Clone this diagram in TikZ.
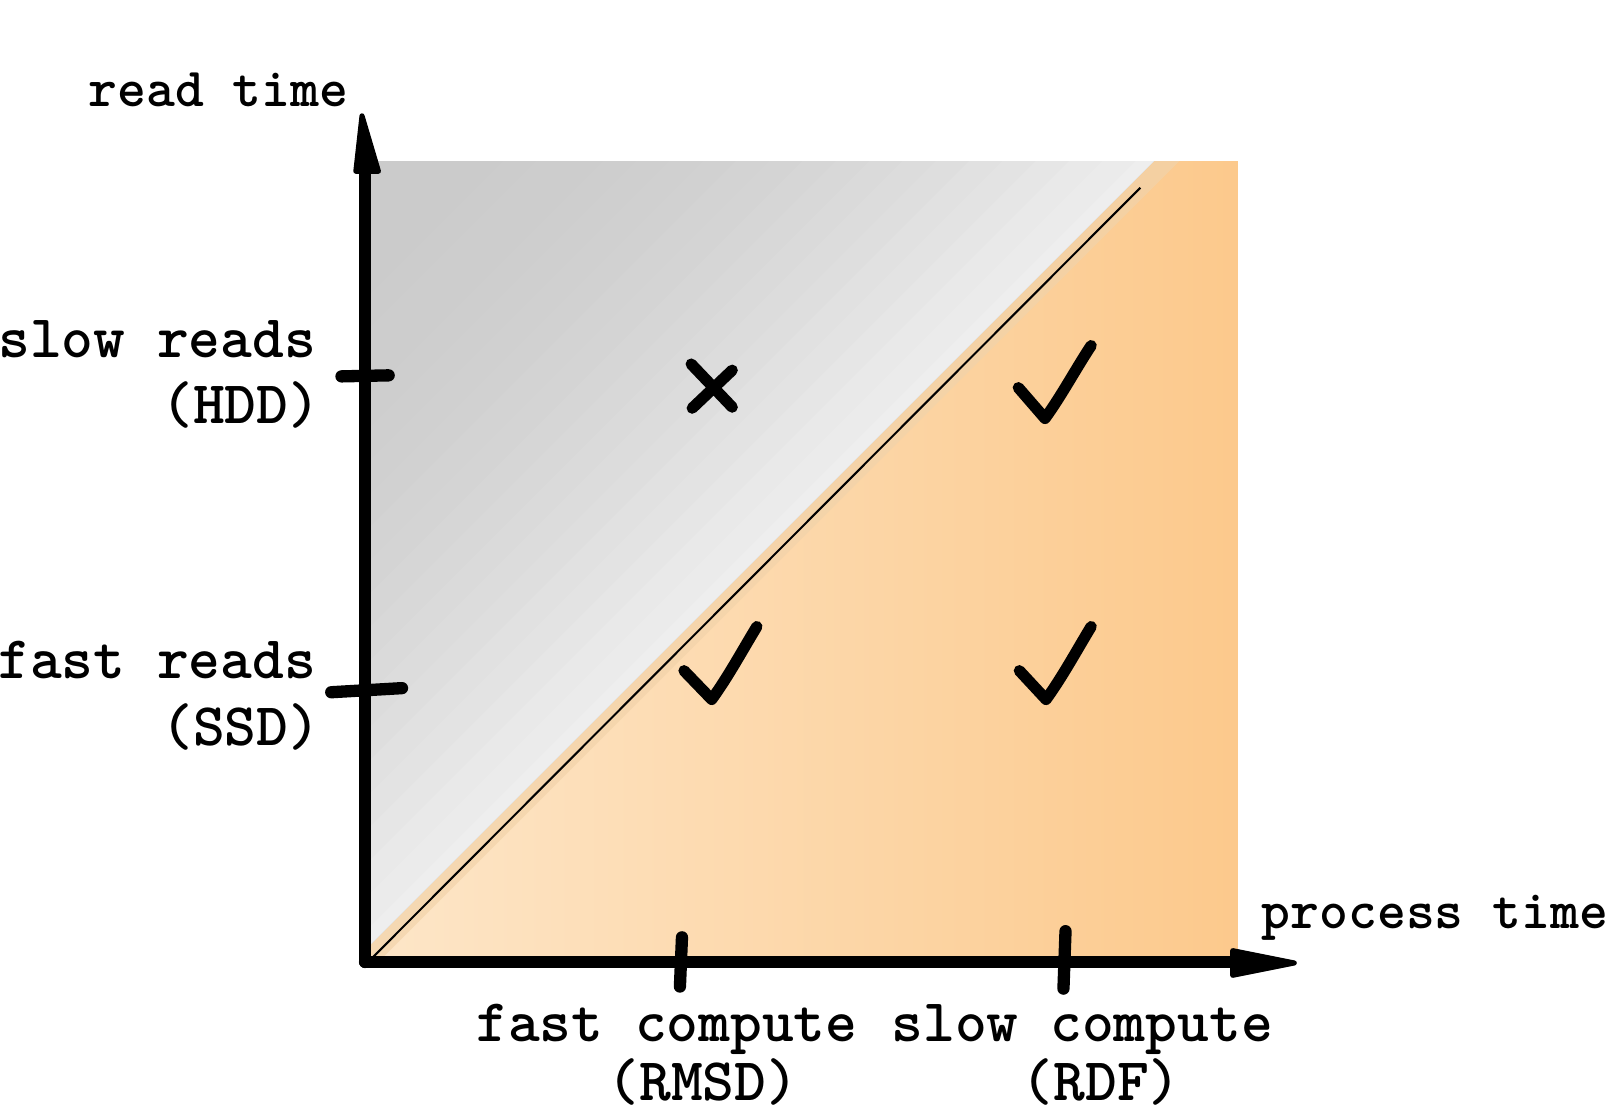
\documentclass[tikz,border=0pt]{standalone}
\usepackage{fontspec}
\definecolor{orfaint}{HTML}{FDE6C8}
\definecolor{orstrong}{HTML}{FCC98C}
\definecolor{tanband}{HTML}{F2D3AA}
\begin{document}
\begin{tikzpicture}[x=0.5pt,y=-0.5pt,
  lab/.style={font=\ttfamily\bfseries\fontsize{29.5}{34}\selectfont, inner sep=0pt, anchor=base west},
  axlab/.style={font=\ttfamily\bfseries\fontsize{26.8}{31}\selectfont, inner sep=0pt, anchor=base west},
  axisline/.style={line width=6pt, line cap=round},
  tickline/.style={line width=6pt, line cap=round},
  penstroke/.style={line width=5.5pt, line cap=round, line join=round},
  arrowtip/.style={fill=black, draw=black, line width=2.5pt, line join=round}]
\useasboundingbox (0,0) rectangle (1568,1089);

% background regions
\shade[left color=orfaint, right color=orstrong] (360,157) rectangle (1207,937);
\fill[tanband, opacity=0.7] (1122,157) -- (1150,157) -- (372,935) -- (360,935) -- (360,919) -- cycle;
\foreach \i in {0,...,23}{
  \pgfmathsetmacro{\c}{517+\i*32.5}
  \pgfmathsetmacro{\p}{20.5-14*(\i/23)^2}
  \fill[black!\p] ({\c-157},157) -- (1125,157) -- (360,922) -- (360,{\c-360}) -- cycle;
}

% diagonal
\coordinate (d0) at (362,935);
\coordinate (d1) at (1112,183);
\draw[line width=1pt] (d0) -- (d1);

% axes
\coordinate (O) at (356,938);
\coordinate (ytop) at (356,165);
\coordinate (xend) at (1205,938);
\draw[axisline] (O) -- (ytop);
\draw[axisline] (O) -- (xend);
\filldraw[arrowtip] (353,113) -- (369,167) -- (347,167) -- cycle;
\filldraw[arrowtip] (1262,939) -- (1202,927) -- (1202,951) -- cycle;

% ticks
\coordinate (ya1) at (333,367); \coordinate (yb1) at (379,366);
\coordinate (ya2) at (323,675); \coordinate (yb2) at (392,671);
\coordinate (xa1) at (665,914); \coordinate (xb1) at (663,962);
\coordinate (xa2) at (1039,908); \coordinate (xb2) at (1037,964);
\draw[tickline] (ya1) -- (yb1);
\draw[tickline] (ya2) -- (yb2);
\draw[tickline] (xa1) -- (xb1);
\draw[tickline] (xa2) -- (xb2);

% cross
\coordinate (c1) at (674,355); \coordinate (c2) at (714,397);
\coordinate (c3) at (714,361); \coordinate (c4) at (675,398);
\draw[penstroke] (c1) -- (c2);
\draw[penstroke] (c3) -- (c4);

% check marks
\coordinate (ka1) at (993,378); \coordinate (kb1) at (1019,408); \coordinate (kc1) at (1064,337);
\draw[penstroke] (ka1) -- (kb1) .. controls (1035,386) and (1050,358) .. (kc1);
\coordinate (ka2) at (667,654); \coordinate (kb2) at (694,682); \coordinate (kc2) at (738,611);
\draw[penstroke] (ka2) -- (kb2) .. controls (710,660) and (724,634) .. (kc2);
\coordinate (ka3) at (994,654); \coordinate (kb3) at (1020,682); \coordinate (kc3) at (1064,611);
\draw[penstroke] (ka3) -- (kb3) .. controls (1036,660) and (1050,634) .. (kc3);

% labels
\node[axlab] (ylab) at (86,104) {read time};
\node[lab] (slow) at (-2,349) {slow reads};
\node[lab] (hdd) at (157,413) {(HDD)};
\node[lab] (fast) at (-2,662) {fast reads};
\node[lab] (ssd) at (157,727) {(SSD)};
\node[axlab] (xlab) at (1230,905) {process time};
\node[lab] (fc) at (464,1016) {fast compute};
\node[lab] (sc) at (869,1016) {slow compute};
\node[lab] (rmsd) at (592,1073) {(RMSD)};
\node[lab] (rdf) at (996,1073) {(RDF)};
\end{tikzpicture}
\end{document}
